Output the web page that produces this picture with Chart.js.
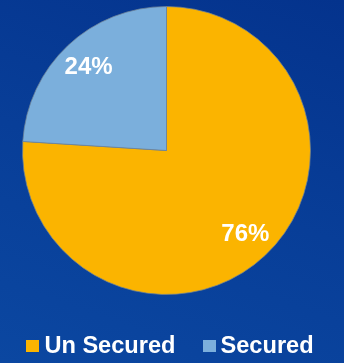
<!DOCTYPE html>
<html>
<head>
<meta charset="utf-8">
<script src="https://cdn.jsdelivr.net/npm/chart.js@4"></script>
<style>
    html, body {
        margin: 0;
        padding: 0;
        width: 344px;
        height: 363px;
        overflow: hidden;
    }
    body {
        position: relative;
        background: linear-gradient(200deg, #04338d 0%, #083e98 50%, #0b47a1 100%);
        font-family: "Liberation Sans", Arial, sans-serif;
    }
    #chartWrap {
        position: absolute;
        left: 0;
        top: 0;
        width: 344px;
        height: 363px;
    }
    #legend {
        position: absolute;
        left: 0;
        top: 333px;
        width: 344px;
        display: flex;
        justify-content: center;
        gap: 27px;
        padding-right: 4px;
        box-sizing: border-box;
        color: #ffffff;
        font-weight: bold;
        font-size: 23.6px;
        line-height: 24px;
    }
    .legend-item {
        display: flex;
        align-items: center;
    }
    .legend-box {
        width: 13px;
        height: 12px;
        margin-right: 5px;
        position: relative;
        top: 1px;
    }
</style>
</head>
<body>
<div id="chartWrap"><canvas id="pieChart" width="344" height="363"></canvas></div>
<div id="legend"></div>
<script>
const categories = ['Un Secured', 'Secured'];
const shares = [76, 24];
const sliceColors = ['#fbb400', '#7bafdc'];

// percentage text inside each slice, placed along the arc by a fraction of its sweep and radius
const sliceLabels = {
    id: 'sliceLabels',
    afterDatasetsDraw(chart, args, opts) {
        const ctx = chart.ctx;
        const meta = chart.getDatasetMeta(0);
        ctx.save();
        ctx.fillStyle = opts.color;
        ctx.font = opts.font;
        ctx.textAlign = 'center';
        ctx.textBaseline = 'middle';
        meta.data.forEach((arc, i) => {
            const p = arc.getProps(['x', 'y', 'startAngle', 'endAngle', 'outerRadius'], true);
            const a = p.startAngle + (p.endAngle - p.startAngle) * opts.along[i];
            const r = p.outerRadius * opts.radial[i];
            const v = chart.data.datasets[0].data[i];
            ctx.fillText(v + '%', p.x + Math.cos(a) * r, p.y + Math.sin(a) * r);
        });
        ctx.restore();
    }
};

const chart = new Chart(document.getElementById('pieChart'), {
    type: 'pie',
    data: {
        labels: categories,
        datasets: [{
            data: shares,
            backgroundColor: sliceColors,
            borderColor: 'rgba(110,130,150,0.75)',
            borderWidth: 1
        }]
    },
    options: {
        responsive: false,
        animation: false,
        layout: {
            padding: { top: 6, bottom: 68, left: 22, right: 33 }
        },
        plugins: {
            legend: { display: false },
            tooltip: { enabled: false },
            sliceLabels: {
                color: '#ffffff',
                font: 'bold 24px "Liberation Sans", Arial, sans-serif',
                along: [0.5, 0.5],
                radial: [0.80, 0.79]
            }
        }
    },
    plugins: [sliceLabels]
});

// legend row under the pie
const legendEl = document.getElementById('legend');
categories.forEach((name, i) => {
    const item = document.createElement('div');
    item.className = 'legend-item';
    const box = document.createElement('span');
    box.className = 'legend-box';
    box.style.background = sliceColors[i];
    const text = document.createElement('span');
    text.textContent = name;
    item.appendChild(box);
    item.appendChild(text);
    legendEl.appendChild(item);
});
</script>
</body>
</html>
